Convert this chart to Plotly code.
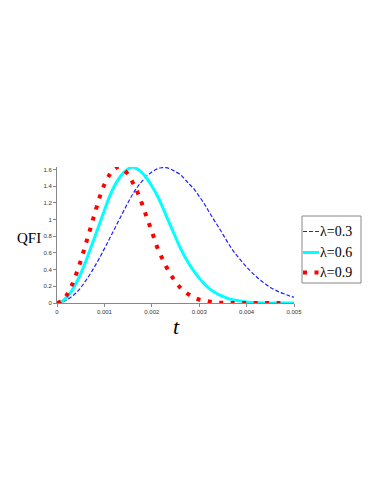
import plotly.graph_objects as go

# time grid (s) and curves
t_vals = [i * 0.0001 for i in range(51)]

qfi_03 = [0, 0.008, 0.035, 0.072, 0.12, 0.183, 0.262, 0.347, 0.442, 0.543,
          0.651, 0.762, 0.873, 0.985, 1.095, 1.205, 1.306, 1.393, 1.463, 1.527,
          1.569, 1.604, 1.621, 1.622, 1.604, 1.574, 1.54, 1.481, 1.42, 1.36,
          1.279, 1.195, 1.10, 1.006, 0.917, 0.823, 0.727, 0.64, 0.565, 0.497,
          0.431, 0.373, 0.319, 0.269, 0.227, 0.186, 0.157, 0.129, 0.107, 0.086,
          0.069]

qfi_06 = [0, 0.018, 0.065, 0.137, 0.234, 0.353, 0.489, 0.642, 0.796, 0.954,
          1.11, 1.266, 1.39, 1.487, 1.56, 1.607, 1.63, 1.604, 1.558, 1.489,
          1.402, 1.303, 1.186, 1.051, 0.922, 0.79, 0.66, 0.552, 0.456, 0.372,
          0.298, 0.233, 0.178, 0.138, 0.105, 0.078, 0.056, 0.04, 0.03, 0.02,
          0.012, 0.007, 0.004, 0.002, 0.001, 0, 0, 0, 0, 0,
          0]

qfi_09 = [0, 0.025, 0.09, 0.195, 0.34, 0.505, 0.695, 0.886, 1.08, 1.27,
          1.42, 1.53, 1.60, 1.63, 1.60, 1.54, 1.44, 1.325, 1.18, 1.015,
          0.86, 0.69, 0.558, 0.44, 0.34, 0.255, 0.185, 0.135, 0.095, 0.065,
          0.042, 0.03, 0.018, 0.009, 0.005, 0.002, 0, 0, 0, 0,
          0, 0, 0, 0, 0, 0, 0, 0, 0, 0,
          0]

x_ticks = [0, 0.001, 0.002, 0.003, 0.004, 0.005]
x_ticklabels = ["0", "0.001", "0.002", "0.003", "0.004", "0.005"]
y_ticks = [0, 0.2, 0.4, 0.6, 0.8, 1.0, 1.2, 1.4, 1.6]
y_ticklabels = ["0", "0.2", "0.4", "0.6", "0.8", "1", "1.2", "1.4", "1.6"]

legend_labels = ["λ=0.3", "λ=0.6", "λ=0.9"]

BLUE = "#2020ff"
CYAN = "#00ffff"
RED = "#ff0000"

fig = go.Figure()
fig.add_trace(go.Scatter(x=t_vals, y=qfi_03, mode="lines", line_shape="spline",
                         line=dict(color=BLUE, width=1.2, dash="4px,2px"),
                         name=legend_labels[0]))
fig.add_trace(go.Scatter(x=t_vals, y=qfi_06, mode="lines", line_shape="spline",
                         line=dict(color=CYAN, width=3),
                         name=legend_labels[1]))
fig.add_trace(go.Scatter(x=t_vals, y=qfi_09[:49], mode="lines", line_shape="spline",
                         line=dict(color=RED, width=4, dash="4px,7.5px"),
                         name=legend_labels[2]))

# the page body has an 8px margin, so work in screen pixels minus that
OFF = 8
L, R, T, B = 57 - OFF, 294 - OFF, 167 - OFF, 303 - OFF
W, H = 387 - OFF, 501 - OFF

def px(xp):
    return (xp - OFF - L) / (R - L)

def py(yp):
    return (B - (yp - OFF)) / (B - T)

fig.update_layout(
    width=W, height=H,
    margin=dict(l=L, r=W - R, t=T, b=H - B, autoexpand=False),
    plot_bgcolor="white", paper_bgcolor="white",
    showlegend=False,
    font=dict(family="Liberation Sans, Arial", size=7, color="#333333"),
)
fig.update_xaxes(range=[0, 0.005], tickvals=x_ticks, ticktext=x_ticklabels,
                 showgrid=False, zeroline=False, showline=True, linecolor="#888888",
                 linewidth=1, ticks="outside", ticklen=3, tickcolor="#888888",
                 tickfont=dict(size=6))
fig.update_yaxes(range=[0, 1.63], tickvals=y_ticks, ticktext=y_ticklabels,
                 showgrid=False, zeroline=False, showline=True, linecolor="#888888",
                 linewidth=1, ticks="outside", ticklen=3, tickcolor="#888888",
                 tickfont=dict(size=6))

# axis titles
fig.add_annotation(x=px(29), y=py(238), xref="paper", yref="paper", text="QFI",
                   xanchor="center", yanchor="middle", showarrow=False,
                   font=dict(family="Liberation Serif", size=15, color="black"))
fig.add_annotation(x=px(176), y=py(326), xref="paper", yref="paper", text="<i>t</i>",
                   xanchor="center", yanchor="middle", showarrow=False,
                   font=dict(family="Liberation Serif", size=22, color="black"))

# hand-drawn legend box
fig.add_shape(type="rect", xref="paper", yref="paper",
              x0=px(302), x1=px(361), y0=py(283), y1=py(216),
              line=dict(color="#888888", width=1), fillcolor="white")
legend_styles = [dict(color=BLUE, width=1.2, dash="4px,2px"),
                 dict(color=CYAN, width=3),
                 dict(color=RED, width=4, dash="4px,7.5px")]
legend_rows = [231.5, 252.5, 272.5]
for lab, sty, yy in zip(legend_labels, legend_styles, legend_rows):
    fig.add_shape(type="line", xref="paper", yref="paper",
                  x0=px(303), x1=px(319), y0=py(yy), y1=py(yy), line=sty)
    fig.add_annotation(x=px(318), y=py(yy), xref="paper", yref="paper", text=lab,
                       xanchor="left", yanchor="middle", showarrow=False,
                       font=dict(family="Liberation Serif", size=14, color="black"))

fig.write_html("out.html")
